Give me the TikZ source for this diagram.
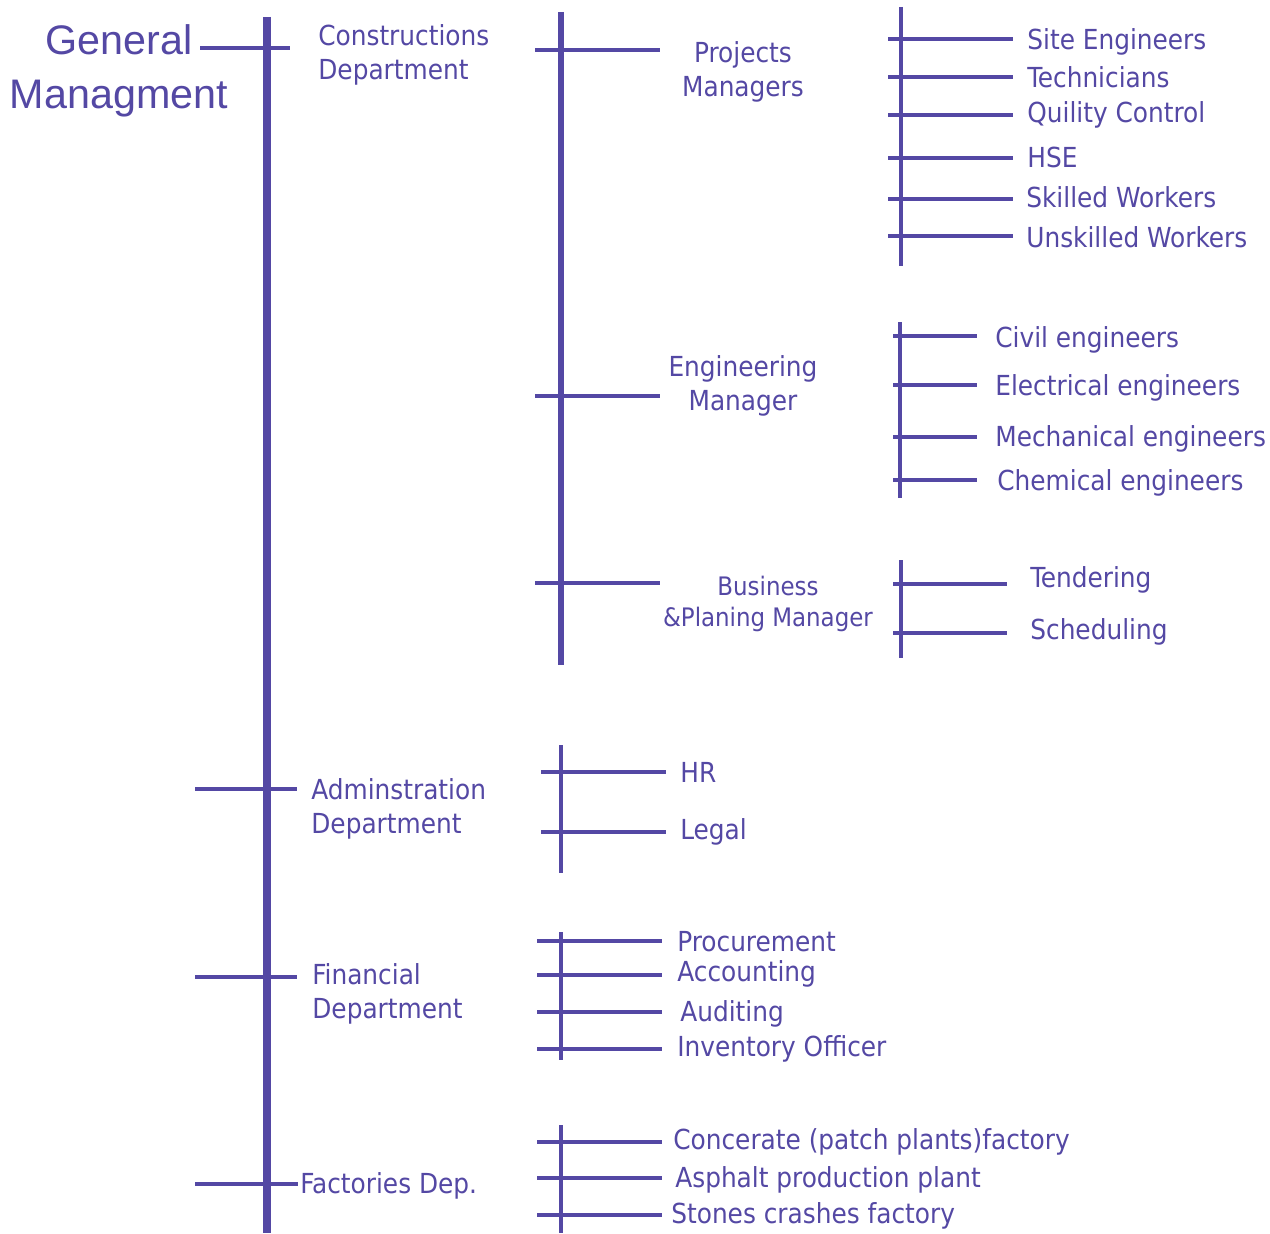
\documentclass[tikz,border=0pt]{standalone}
\usepackage{fontspec}
\setmainfont{DejaVu Sans Condensed}
\newfontfamily\headfont{Liberation Sans}
\usetikzlibrary{calc}

\definecolor{orgblue}{RGB}{84,72,164}

\tikzset{
  trunk/.style={orgblue, line width=4.2pt},
  subtrunk/.style={orgblue, line width=3pt},
  branch/.style={orgblue, line width=2.4pt},
  twig/.style={orgblue, line width=1.9pt},
  lbl/.style={text=orgblue, anchor=west, inner sep=0pt, align=left,
    font=\fontsize{15.7}{19.3}\selectfont},
  mgr/.style={text=orgblue, inner sep=0pt, align=center,
    font=\fontsize{15.7}{19.3}\selectfont},
}

\begin{document}
\begin{tikzpicture}[x=0.02cm,y=-0.02cm]
            \useasboundingbox (0,0) rectangle (1270,1233);

            % general managment and main trunk
            \node[text=orgblue, align=center, inner sep=0pt,
                  font=\headfont\fontsize{23.5}{31}\selectfont] (gm) at (119,71) {General\\Managment};
            \coordinate (gtop) at (267,17);
            \coordinate (gbot) at (267,1233);
            \draw[trunk] (gtop) -- (gbot);

            % departments
            \coordinate (d1a) at (200,48);   \coordinate (d1b) at (290,48);
            \coordinate (d2a) at (195,789);  \coordinate (d2b) at (297,789);
            \coordinate (d3a) at (195,977);  \coordinate (d3b) at (297,977);
            \coordinate (d4a) at (195,1184); \coordinate (d4b) at (298,1184);
            \draw[branch] (d1a) -- (d1b);
            \draw[branch] (d2a) -- (d2b);
            \draw[branch] (d3a) -- (d3b);
            \draw[branch] (d4a) -- (d4b);

            \node[lbl] (cons) at (318,55) {Constructions\\Department};
            \node[lbl] (adm) at (311,809) {Adminstration\\Department};
            \node[lbl] (fin) at (312,994) {Financial\\Department};
            \node[lbl] (fac) at (300,1186) {Factories Dep.};

            % constructions department
            \coordinate (ctop) at (561,12);
            \coordinate (cbot) at (561,665);
            \draw[subtrunk] (ctop) -- (cbot);
            \coordinate (m1a) at (535,50);  \coordinate (m1b) at (660,50);
            \coordinate (m2a) at (535,396); \coordinate (m2b) at (660,396);
            \coordinate (m3a) at (535,583); \coordinate (m3b) at (660,583);
            \draw[branch] (m1a) -- (m1b);
            \draw[branch] (m2a) -- (m2b);
            \draw[branch] (m3a) -- (m3b);

            \node[mgr] (pm) at (743,72) {Projects\\Managers};
            \node[mgr] (em) at (743,386) {Engineering\\Manager};
            \node[mgr, font=\fontsize{14.5}{18}\selectfont] (bm) at (768,604) {Business\\\&Planing Manager};

            % projects managers
            \coordinate (ptop) at (901,7);
            \coordinate (pbot) at (901,266);
            \draw[branch] (ptop) -- (pbot);
            \draw[branch] (888,39) -- (1013,39);
            \draw[branch] (888,77) -- (1013,77);
            \draw[branch] (888,115) -- (1013,115);
            \draw[branch] (888,158) -- (1013,158);
            \draw[branch] (888,199) -- (1013,199);
            \draw[branch] (888,236) -- (1013,236);
            \node[lbl] (p1) at (1027,42) {Site Engineers};
            \node[lbl] (p2) at (1027,77) {Technicians};
            \node[lbl] (p3) at (1027,115) {Quility Control};
            \node[lbl] (p4) at (1027,157) {HSE};
            \node[lbl] (p5) at (1026,197) {Skilled Workers};
            \node[lbl] (p6) at (1026,237) {Unskilled Workers};

            % engineering manager
            \coordinate (etop) at (900,322);
            \coordinate (ebot) at (900,498);
            \draw[twig] (etop) -- (ebot);
            \draw[twig] (893,336) -- (977,336);
            \draw[twig] (893,385) -- (977,385);
            \draw[twig] (893,437) -- (977,437);
            \draw[twig] (893,480) -- (977,480);
            \node[lbl] (e1) at (995,340) {Civil engineers};
            \node[lbl] (e2) at (995,388) {Electrical engineers};
            \node[lbl] (e3) at (995,439) {Mechanical engineers};
            \node[lbl] (e4) at (997,483) {Chemical engineers};

            % business & planing
            \coordinate (btop) at (901,560);
            \coordinate (bbot) at (901,658);
            \draw[twig] (btop) -- (bbot);
            \draw[branch] (893,584) -- (1007,584);
            \draw[branch] (893,633) -- (1007,633);
            \node[lbl] (b1) at (1030,580) {Tendering};
            \node[lbl] (b2) at (1030,632) {Scheduling};

            % adminstration
            \coordinate (atop) at (561,745);
            \coordinate (abot) at (561,873);
            \draw[branch] (atop) -- (abot);
            \draw[branch] (541,772) -- (666,772);
            \draw[branch] (541,832) -- (666,832);
            \node[lbl] (a1) at (680,772) {HR};
            \node[lbl] (a2) at (680,832) {Legal};

            % financial
            \coordinate (ftop) at (561,932);
            \coordinate (fbot) at (561,1060);
            \draw[branch] (ftop) -- (fbot);
            \draw[branch] (537,941) -- (662,941);
            \draw[branch] (537,975) -- (662,975);
            \draw[branch] (537,1012) -- (662,1012);
            \draw[branch] (537,1049) -- (662,1049);
            \node[lbl] (f1) at (677,942) {Procurement};
            \node[lbl] (f2) at (677,974) {Accounting};
            \node[lbl] (f3) at (680,1014) {Auditing};
            \node[lbl] (f4) at (677,1049) {Inventory Officer};

            % factories
            \coordinate (ktop) at (561,1125);
            \coordinate (kbot) at (561,1233);
            \draw[branch] (ktop) -- (kbot);
            \draw[branch] (537,1142) -- (662,1142);
            \draw[branch] (537,1178) -- (662,1178);
            \draw[branch] (537,1215) -- (662,1215);
            \node[lbl] (k1) at (673,1142) {Concerate (patch plants)factory};
            \node[lbl] (k2) at (675,1180) {Asphalt production plant};
            \node[lbl] (k3) at (671,1216) {Stones crashes factory};
\end{tikzpicture}
\end{document}
